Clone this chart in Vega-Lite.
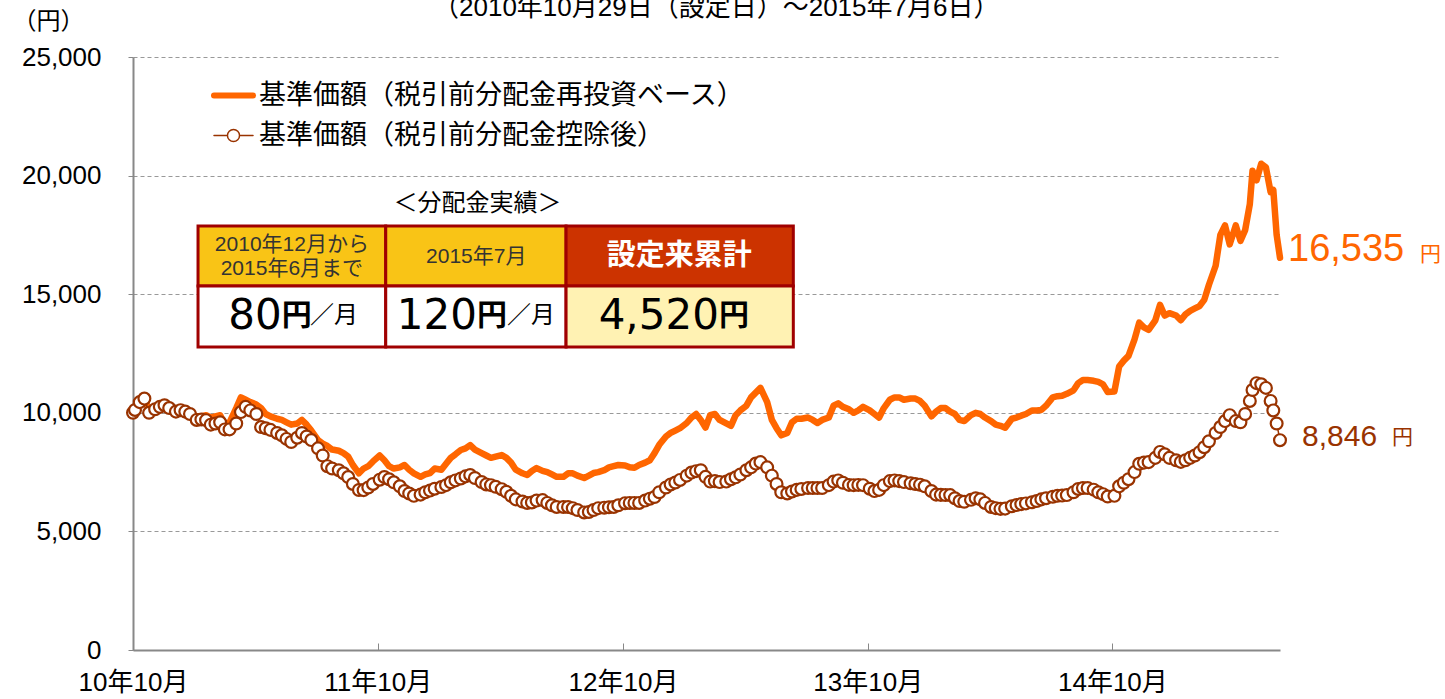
{
  "$schema": "https://vega.github.io/schema/vega-lite/v6.json",
  "width": 1147,
  "height": 593,
  "autosize": {"type": "none"},
  "padding": {"left": 133, "top": 57, "right": 165, "bottom": 49},
  "background": "white",
  "config": {"view": {"stroke": null}, "font": "Liberation Sans, Noto Sans CJK JP", "axisY": {"format": ",d"}},
  "datasets": {
    "nav": [
      {"date":"2010-10-29","reinvest":10000,"after":10000},
      {"date":"2010-11-01","reinvest":10100,"after":10120},
      {"date":"2010-11-08","reinvest":10450,"after":10450},
      {"date":"2010-11-15","reinvest":10650,"after":10600},
      {"date":"2010-11-22","reinvest":10050,"after":10000},
      {"date":"2010-12-01","reinvest":10150,"after":10150},
      {"date":"2010-12-08","reinvest":10300,"after":10250},
      {"date":"2010-12-15","reinvest":10330,"after":10320},
      {"date":"2010-12-22","reinvest":10250,"after":10200},
      {"date":"2011-01-01","reinvest":10100,"after":10050},
      {"date":"2011-01-08","reinvest":10150,"after":10110},
      {"date":"2011-01-15","reinvest":10100,"after":10050},
      {"date":"2011-01-22","reinvest":10000,"after":9950},
      {"date":"2011-02-01","reinvest":9850,"after":9700},
      {"date":"2011-02-08","reinvest":9850,"after":9720},
      {"date":"2011-02-15","reinvest":9900,"after":9690},
      {"date":"2011-02-22","reinvest":9800,"after":9500},
      {"date":"2011-03-01","reinvest":9850,"after":9550},
      {"date":"2011-03-08","reinvest":9900,"after":9600},
      {"date":"2011-03-15","reinvest":9500,"after":9300},
      {"date":"2011-03-22","reinvest":9600,"after":9300},
      {"date":"2011-04-01","reinvest":10200,"after":9550},
      {"date":"2011-04-08","reinvest":10650,"after":10030},
      {"date":"2011-04-15","reinvest":10550,"after":10250},
      {"date":"2011-04-22","reinvest":10450,"after":10100},
      {"date":"2011-05-01","reinvest":10350,"after":9950},
      {"date":"2011-05-08","reinvest":10200,"after":9400},
      {"date":"2011-05-15","reinvest":9950,"after":9350},
      {"date":"2011-05-22","reinvest":9850,"after":9280},
      {"date":"2011-06-01","reinvest":9750,"after":9150},
      {"date":"2011-06-08","reinvest":9700,"after":9050},
      {"date":"2011-06-15","reinvest":9600,"after":8900},
      {"date":"2011-06-22","reinvest":9500,"after":8770},
      {"date":"2011-07-01","reinvest":9550,"after":8950},
      {"date":"2011-07-08","reinvest":9700,"after":9150},
      {"date":"2011-07-15","reinvest":9500,"after":9000},
      {"date":"2011-07-22","reinvest":9250,"after":8850},
      {"date":"2011-08-01","reinvest":8850,"after":8500},
      {"date":"2011-08-08","reinvest":8700,"after":8200},
      {"date":"2011-08-15","reinvest":8600,"after":7750},
      {"date":"2011-08-22","reinvest":8450,"after":7650},
      {"date":"2011-09-01","reinvest":8400,"after":7580},
      {"date":"2011-09-08","reinvest":8300,"after":7450},
      {"date":"2011-09-15","reinvest":8150,"after":7290},
      {"date":"2011-09-22","reinvest":7800,"after":7000},
      {"date":"2011-10-01","reinvest":7450,"after":6745},
      {"date":"2011-10-08","reinvest":7650,"after":6740},
      {"date":"2011-10-15","reinvest":7750,"after":6850},
      {"date":"2011-10-22","reinvest":7950,"after":7000},
      {"date":"2011-11-01","reinvest":8200,"after":7180},
      {"date":"2011-11-08","reinvest":8000,"after":7290},
      {"date":"2011-11-15","reinvest":7750,"after":7200},
      {"date":"2011-11-22","reinvest":7650,"after":7070},
      {"date":"2011-12-01","reinvest":7700,"after":6900},
      {"date":"2011-12-08","reinvest":7800,"after":6700},
      {"date":"2011-12-15","reinvest":7600,"after":6600},
      {"date":"2011-12-22","reinvest":7450,"after":6500},
      {"date":"2012-01-01","reinvest":7300,"after":6550},
      {"date":"2012-01-08","reinvest":7400,"after":6650},
      {"date":"2012-01-15","reinvest":7460,"after":6720},
      {"date":"2012-01-22","reinvest":7650,"after":6800},
      {"date":"2012-02-01","reinvest":7600,"after":6870},
      {"date":"2012-02-08","reinvest":7850,"after":6950},
      {"date":"2012-02-15","reinvest":8100,"after":7070},
      {"date":"2012-02-22","reinvest":8250,"after":7150},
      {"date":"2012-03-01","reinvest":8430,"after":7230},
      {"date":"2012-03-08","reinvest":8500,"after":7320},
      {"date":"2012-03-15","reinvest":8640,"after":7380},
      {"date":"2012-03-22","reinvest":8450,"after":7250},
      {"date":"2012-04-01","reinvest":8300,"after":7080},
      {"date":"2012-04-08","reinvest":8200,"after":6980},
      {"date":"2012-04-15","reinvest":8100,"after":6950},
      {"date":"2012-04-22","reinvest":8150,"after":6880},
      {"date":"2012-05-01","reinvest":8220,"after":6780},
      {"date":"2012-05-08","reinvest":8100,"after":6670},
      {"date":"2012-05-15","reinvest":7900,"after":6500},
      {"date":"2012-05-22","reinvest":7600,"after":6350},
      {"date":"2012-06-01","reinvest":7450,"after":6260},
      {"date":"2012-06-08","reinvest":7380,"after":6200},
      {"date":"2012-06-15","reinvest":7550,"after":6220},
      {"date":"2012-06-22","reinvest":7670,"after":6300},
      {"date":"2012-07-01","reinvest":7550,"after":6320},
      {"date":"2012-07-08","reinvest":7500,"after":6200},
      {"date":"2012-07-15","reinvest":7400,"after":6100},
      {"date":"2012-07-22","reinvest":7300,"after":6030},
      {"date":"2012-08-01","reinvest":7300,"after":6030},
      {"date":"2012-08-08","reinvest":7450,"after":6030},
      {"date":"2012-08-15","reinvest":7450,"after":5980},
      {"date":"2012-08-22","reinvest":7350,"after":5900},
      {"date":"2012-09-01","reinvest":7250,"after":5800},
      {"date":"2012-09-08","reinvest":7350,"after":5820},
      {"date":"2012-09-15","reinvest":7460,"after":5900},
      {"date":"2012-09-22","reinvest":7500,"after":5980},
      {"date":"2012-10-01","reinvest":7580,"after":6000},
      {"date":"2012-10-08","reinvest":7700,"after":6020},
      {"date":"2012-10-15","reinvest":7750,"after":6030},
      {"date":"2012-10-22","reinvest":7800,"after":6100},
      {"date":"2012-11-01","reinvest":7780,"after":6190},
      {"date":"2012-11-08","reinvest":7700,"after":6200},
      {"date":"2012-11-15","reinvest":7680,"after":6200},
      {"date":"2012-11-22","reinvest":7800,"after":6200},
      {"date":"2012-12-01","reinvest":7900,"after":6300},
      {"date":"2012-12-08","reinvest":8000,"after":6380},
      {"date":"2012-12-15","reinvest":8300,"after":6450},
      {"date":"2012-12-22","reinvest":8650,"after":6650},
      {"date":"2013-01-01","reinvest":9000,"after":6850},
      {"date":"2013-01-08","reinvest":9150,"after":6980},
      {"date":"2013-01-15","reinvest":9250,"after":7060},
      {"date":"2013-01-22","reinvest":9350,"after":7170},
      {"date":"2013-02-01","reinvest":9570,"after":7350},
      {"date":"2013-02-08","reinvest":9800,"after":7480},
      {"date":"2013-02-15","reinvest":9950,"after":7540},
      {"date":"2013-02-22","reinvest":9700,"after":7580},
      {"date":"2013-03-01","reinvest":9380,"after":7300},
      {"date":"2013-03-08","reinvest":9900,"after":7100},
      {"date":"2013-03-15","reinvest":9950,"after":7120},
      {"date":"2013-03-22","reinvest":9700,"after":7080},
      {"date":"2013-04-01","reinvest":9550,"after":7100},
      {"date":"2013-04-08","reinvest":9450,"after":7200},
      {"date":"2013-04-15","reinvest":9900,"after":7280},
      {"date":"2013-04-22","reinvest":10100,"after":7400},
      {"date":"2013-05-01","reinvest":10300,"after":7580},
      {"date":"2013-05-08","reinvest":10650,"after":7700},
      {"date":"2013-05-15","reinvest":10850,"after":7860},
      {"date":"2013-05-22","reinvest":11050,"after":7920},
      {"date":"2013-06-01","reinvest":10450,"after":7700},
      {"date":"2013-06-08","reinvest":9700,"after":7350},
      {"date":"2013-06-15","reinvest":9350,"after":7000},
      {"date":"2013-06-22","reinvest":9050,"after":6650},
      {"date":"2013-07-01","reinvest":9150,"after":6600},
      {"date":"2013-07-08","reinvest":9600,"after":6680},
      {"date":"2013-07-15","reinvest":9750,"after":6750},
      {"date":"2013-07-22","reinvest":9750,"after":6790},
      {"date":"2013-08-01","reinvest":9800,"after":6830},
      {"date":"2013-08-08","reinvest":9700,"after":6830},
      {"date":"2013-08-15","reinvest":9570,"after":6830},
      {"date":"2013-08-22","reinvest":9700,"after":6830},
      {"date":"2013-09-01","reinvest":9800,"after":6950},
      {"date":"2013-09-08","reinvest":10300,"after":7100},
      {"date":"2013-09-15","reinvest":10400,"after":7150},
      {"date":"2013-09-22","reinvest":10250,"after":7050},
      {"date":"2013-10-01","reinvest":10150,"after":6960},
      {"date":"2013-10-08","reinvest":10000,"after":6950},
      {"date":"2013-10-15","reinvest":10100,"after":6960},
      {"date":"2013-10-22","reinvest":10250,"after":6950},
      {"date":"2013-11-01","reinvest":10100,"after":6800},
      {"date":"2013-11-08","reinvest":9950,"after":6700},
      {"date":"2013-11-15","reinvest":9800,"after":6750},
      {"date":"2013-11-22","reinvest":10200,"after":6950},
      {"date":"2013-12-01","reinvest":10550,"after":7120},
      {"date":"2013-12-08","reinvest":10650,"after":7150},
      {"date":"2013-12-15","reinvest":10650,"after":7120},
      {"date":"2013-12-22","reinvest":10550,"after":7080},
      {"date":"2014-01-01","reinvest":10600,"after":7030},
      {"date":"2014-01-08","reinvest":10600,"after":7000},
      {"date":"2014-01-15","reinvest":10500,"after":6970},
      {"date":"2014-01-22","reinvest":10300,"after":6900},
      {"date":"2014-02-01","reinvest":9850,"after":6700},
      {"date":"2014-02-08","reinvest":10050,"after":6550},
      {"date":"2014-02-15","reinvest":10200,"after":6540},
      {"date":"2014-02-22","reinvest":10200,"after":6535},
      {"date":"2014-03-01","reinvest":10050,"after":6530},
      {"date":"2014-03-08","reinvest":9950,"after":6400},
      {"date":"2014-03-15","reinvest":9700,"after":6280},
      {"date":"2014-03-22","reinvest":9650,"after":6250},
      {"date":"2014-04-01","reinvest":9900,"after":6330},
      {"date":"2014-04-08","reinvest":10000,"after":6400},
      {"date":"2014-04-15","reinvest":9950,"after":6350},
      {"date":"2014-04-22","reinvest":9800,"after":6200},
      {"date":"2014-05-01","reinvest":9650,"after":6030},
      {"date":"2014-05-08","reinvest":9500,"after":5980},
      {"date":"2014-05-15","reinvest":9450,"after":5950},
      {"date":"2014-05-22","reinvest":9370,"after":5960},
      {"date":"2014-06-01","reinvest":9750,"after":6060},
      {"date":"2014-06-08","reinvest":9800,"after":6110},
      {"date":"2014-06-15","reinvest":9880,"after":6150},
      {"date":"2014-06-22","reinvest":9950,"after":6180},
      {"date":"2014-07-01","reinvest":10100,"after":6230},
      {"date":"2014-07-08","reinvest":10100,"after":6280},
      {"date":"2014-07-15","reinvest":10120,"after":6350},
      {"date":"2014-07-22","reinvest":10300,"after":6400},
      {"date":"2014-08-01","reinvest":10650,"after":6460},
      {"date":"2014-08-08","reinvest":10700,"after":6500},
      {"date":"2014-08-15","reinvest":10720,"after":6510},
      {"date":"2014-08-22","reinvest":10800,"after":6530},
      {"date":"2014-09-01","reinvest":10950,"after":6650},
      {"date":"2014-09-08","reinvest":11250,"after":6790},
      {"date":"2014-09-15","reinvest":11380,"after":6830},
      {"date":"2014-09-22","reinvest":11380,"after":6830},
      {"date":"2014-10-01","reinvest":11350,"after":6760},
      {"date":"2014-10-08","reinvest":11300,"after":6650},
      {"date":"2014-10-15","reinvest":11200,"after":6570},
      {"date":"2014-10-22","reinvest":10880,"after":6470},
      {"date":"2014-11-01","reinvest":10900,"after":6500},
      {"date":"2014-11-08","reinvest":11950,"after":6900},
      {"date":"2014-11-15","reinvest":12200,"after":7050},
      {"date":"2014-11-22","reinvest":12400,"after":7200},
      {"date":"2014-12-01","reinvest":13100,"after":7500},
      {"date":"2014-12-08","reinvest":13800,"after":7850},
      {"date":"2014-12-15","reinvest":13600,"after":7900},
      {"date":"2014-12-22","reinvest":13500,"after":7920},
      {"date":"2015-01-01","reinvest":13900,"after":8100},
      {"date":"2015-01-08","reinvest":14550,"after":8350},
      {"date":"2015-01-15","reinvest":14100,"after":8250},
      {"date":"2015-01-22","reinvest":14200,"after":8100},
      {"date":"2015-02-01","reinvest":14100,"after":8000},
      {"date":"2015-02-08","reinvest":13900,"after":7930},
      {"date":"2015-02-15","reinvest":14150,"after":8000},
      {"date":"2015-02-22","reinvest":14300,"after":8100},
      {"date":"2015-03-01","reinvest":14400,"after":8200},
      {"date":"2015-03-08","reinvest":14500,"after":8340},
      {"date":"2015-03-15","reinvest":14760,"after":8550},
      {"date":"2015-03-22","reinvest":15400,"after":8800},
      {"date":"2015-04-01","reinvest":16200,"after":9150},
      {"date":"2015-04-08","reinvest":17500,"after":9400},
      {"date":"2015-04-15","reinvest":17900,"after":9650},
      {"date":"2015-04-22","reinvest":17100,"after":9900},
      {"date":"2015-05-01","reinvest":17900,"after":9650},
      {"date":"2015-05-08","reinvest":17250,"after":9600},
      {"date":"2015-05-15","reinvest":17700,"after":9950},
      {"date":"2015-05-22","reinvest":18800,"after":10500},
      {"date":"2015-05-26","reinvest":20200,"after":10960},
      {"date":"2015-06-01","reinvest":19800,"after":11250},
      {"date":"2015-06-08","reinvest":20500,"after":11200},
      {"date":"2015-06-15","reinvest":20350,"after":11050},
      {"date":"2015-06-22","reinvest":19300,"after":10500},
      {"date":"2015-06-26","reinvest":19400,"after":10100},
      {"date":"2015-07-01","reinvest":17500,"after":9550},
      {"date":"2015-07-06","reinvest":16535,"after":8846}
    ],
    "cells": [
      {"cell":"h1","x1":"2011-02-03","x2":"2011-11-10","y1":15346,"y2":17875},
      {"cell":"h2","x1":"2011-11-10","x2":"2012-08-05","y1":15346,"y2":17875},
      {"cell":"h3","x1":"2012-08-05","x2":"2013-07-10","y1":15346,"y2":17875},
      {"cell":"b1","x1":"2011-02-03","x2":"2011-11-10","y1":12774,"y2":15346},
      {"cell":"b2","x1":"2011-11-10","x2":"2012-08-05","y1":12774,"y2":15346},
      {"cell":"b3","x1":"2012-08-05","x2":"2013-07-10","y1":12774,"y2":15346}
    ],
    "hdr": [
      {"x":"2011-06-23","y":17074,"t":"2010年12月から"},
      {"x":"2011-06-23","y":16063,"t":"2015年6月まで"},
      {"x":"2012-03-24","y":16568,"t":"2015年7月"}
    ],
    "hdrbig": [
      {"x":"2013-01-21","y":16611,"t":"設定来累計"}
    ],
    "body": [
      {"x":"2011-06-08","xs":"2011-07-20","y":14081,"num":"80","per":"／月"},
      {"x":"2012-03-25","xs":"2012-05-09","y":14081,"num":"120","per":"／月"},
      {"x":"2013-03-21","xs":null,"y":14081,"num":"4,520","per":null}
    ],
    "notes": [
      {"x":"2012-03-26","y":18803,"t":"＜分配金実績＞"}
    ],
    "heading": [
      {"x":"2013-03-17","y":27066,"t":"（2010年10月29日（設定日）～2015年7月6日）"}
    ]
  },
  "layer": [
    {
      "data": {"name": "nav"},
      "transform": [{"fold": ["reinvest", "after"], "as": ["series", "value"]}],
      "encoding": {
        "x": {
          "field": "date", "type": "temporal",
          "scale": {"type": "utc", "domain": [{"year":2010,"month":10,"date":29,"utc":true},{"year":2015,"month":7,"date":6,"utc":true}]},
          "axis": {
            "values": [
              {"year":2010,"month":10,"date":29,"utc":true},
              {"year":2011,"month":10,"date":29,"utc":true},
              {"year":2012,"month":10,"date":29,"utc":true},
              {"year":2013,"month":10,"date":29,"utc":true},
              {"year":2014,"month":10,"date":29,"utc":true}
            ],
            "format": "%y年%-m月", "title": null, "grid": false,
            "domainColor": "#888888", "domainWidth": 2,
            "tickColor": "#888888", "tickWidth": 1, "tickSize": -7,
            "labelFontSize": 26, "labelFont": "Liberation Sans, Noto Sans CJK JP",
            "labelColor": "#000000", "labelPadding": 26, "labelFlush": false, "labelOverlap": false
          }
        },
        "y": {
          "field": "value", "type": "quantitative",
          "scale": {"domain": [0, 25000], "nice": false},
          "axis": {
            "values": [0, 5000, 10000, 15000, 20000, 25000], "format": ",d",
            "labelExpr": "format(datum.value, ',d')",
            "title": "（円）", "titleAngle": 0, "titleX": -85, "titleY": -36,
            "titleAlign": "center", "titleBaseline": "middle",
            "titleFontSize": 24, "titleFontWeight": "normal", "titleFont": "Noto Sans CJK JP", "titleColor": "#000000",
            "grid": true, "gridColor": "#999999", "gridDash": [4, 3], "gridWidth": 1,
            "domainColor": "#888888", "domainWidth": 2,
            "tickColor": "#888888", "tickSize": 5,
            "labelFontSize": 26, "labelFont": "Liberation Sans", "labelColor": "#000000", "labelPadding": 27
          }
        }
      },
      "layer": [
        {
          "transform": [{"filter": "datum.series === 'reinvest'"}],
          "mark": {"type": "line", "strokeWidth": 6.5, "strokeJoin": "round", "strokeCap": "round"},
          "encoding": {
            "color": {
              "field": "series", "type": "nominal",
              "scale": {"domain": ["reinvest", "after"], "range": ["#FF6600", "#993300"]},
              "legend": {
                "orient": "none", "legendX": 87, "legendY": 25, "title": null, "padding": 0,
                "symbolSize": 1521, "symbolType": "stroke", "symbolStrokeWidth": 6,
                "labelFontSize": 27, "labelFont": "Noto Sans CJK JP", "labelColor": "#000000",
                "labelLimit": 900, "labelOffset": 12, "rowPadding": 12,
                "labelExpr": "datum.value === 'reinvest' ? '基準価額（税引前分配金再投資ベース）' : '基準価額（税引前分配金控除後）'",
                "encode": {
                  "symbols": {
                    "update": {
                      "shape": {"signal": "datum.value === 'reinvest' ? 'stroke' : 'M-1,0L-0.31,0M0.31,0L1,0M-0.31,0A0.31,0.31,0,1,1,0.31,0A0.31,0.31,0,1,1,-0.31,0Z'"},
                      "strokeWidth": {"signal": "datum.value === 'reinvest' ? 6 : 1.5"},
                      "fill": {"signal": "datum.value === 'reinvest' ? 'transparent' : 'white'"},
                      "strokeCap": {"value": "round"}
                    }
                  }
                }
              }
            }
          }
        },
        {
          "transform": [{"filter": "datum.series === 'after'"}],
          "mark": {"type": "line", "strokeWidth": 1.5},
          "encoding": {"color": {"field": "series", "type": "nominal"}}
        },
        {
          "transform": [{"filter": "datum.series === 'after'"}],
          "mark": {"type": "point", "shape": "circle", "size": 140, "filled": false, "fill": "white", "strokeWidth": 2.2, "opacity": 1},
          "encoding": {"color": {"field": "series", "type": "nominal"}}
        },
        {
          "transform": [{"filter": "datum.series === 'reinvest' && time(datum.date) === utc(2015,6,6)"}],
          "mark": {"type": "text", "align": "left", "baseline": "middle", "dx": 8, "dy": -8, "fontSize": 38, "font": "Liberation Sans", "color": "#FF6600"},
          "encoding": {"text": {"field": "value", "type": "quantitative", "format": ","}}
        },
        {
          "transform": [{"filter": "datum.series === 'reinvest' && time(datum.date) === utc(2015,6,6)"}],
          "mark": {"type": "text", "align": "left", "baseline": "middle", "dx": 140, "dy": -3, "fontSize": 21, "font": "Noto Sans CJK JP", "color": "#FF6600"},
          "encoding": {"text": {"value": "円"}}
        },
        {
          "transform": [{"filter": "datum.series === 'after' && time(datum.date) === utc(2015,6,6)"}],
          "mark": {"type": "text", "align": "left", "baseline": "middle", "dx": 22, "dy": -3, "fontSize": 30, "font": "Liberation Sans", "color": "#993300"},
          "encoding": {"text": {"field": "value", "type": "quantitative", "format": ","}}
        },
        {
          "transform": [{"filter": "datum.series === 'after' && time(datum.date) === utc(2015,6,6)"}],
          "mark": {"type": "text", "align": "left", "baseline": "middle", "dx": 112, "dy": -2, "fontSize": 21, "font": "Noto Sans CJK JP", "color": "#993300"},
          "encoding": {"text": {"value": "円"}}
        }
      ]
    },
    {
      "data": {"name": "cells"},
      "mark": {"type": "rect", "stroke": "#A00000", "strokeWidth": 3},
      "encoding": {
        "x": {"field": "x1", "type": "temporal"},
        "x2": {"field": "x2"},
        "y": {"field": "y1", "type": "quantitative"},
        "y2": {"field": "y2"},
        "fill": {
          "field": "cell", "type": "nominal", "legend": null,
          "scale": {"domain": ["h1","h2","h3","b1","b2","b3"], "range": ["#F9C416","#F9C416","#CC3300","#FFFFFF","#FFFFFF","#FFF2B3"]}
        }
      }
    },
    {
      "data": {"name": "hdr"},
      "mark": {"type": "text", "align": "center", "baseline": "middle", "fontSize": 21, "font": "Liberation Sans, Noto Sans CJK JP", "color": "#333333"},
      "encoding": {
        "x": {"field": "x", "type": "temporal"},
        "y": {"field": "y", "type": "quantitative"},
        "text": {"field": "t"}
      }
    },
    {
      "data": {"name": "hdrbig"},
      "mark": {"type": "text", "align": "center", "baseline": "middle", "fontSize": 29, "fontWeight": "bold", "font": "Noto Sans CJK JP", "color": "#FFFFFF"},
      "encoding": {
        "x": {"field": "x", "type": "temporal"},
        "y": {"field": "y", "type": "quantitative"},
        "text": {"field": "t"}
      }
    },
    {
      "data": {"name": "body"},
      "mark": {"type": "text", "align": "right", "baseline": "middle", "fontSize": 42, "font": "DejaVu Sans", "color": "#000000"},
      "encoding": {
        "x": {"field": "x", "type": "temporal"},
        "y": {"field": "y", "type": "quantitative"},
        "text": {"field": "num"}
      }
    },
    {
      "data": {"name": "body"},
      "mark": {"type": "text", "align": "left", "baseline": "middle", "fontSize": 30, "fontWeight": "bold", "font": "Noto Sans CJK JP", "color": "#000000"},
      "encoding": {
        "x": {"field": "x", "type": "temporal"},
        "y": {"field": "y", "type": "quantitative"},
        "text": {"value": "円"}
      }
    },
    {
      "data": {"name": "body"},
      "transform": [{"filter": "datum.per != null"}],
      "mark": {"type": "text", "align": "left", "baseline": "middle", "fontSize": 24, "font": "Noto Sans CJK JP", "color": "#000000"},
      "encoding": {
        "x": {"field": "xs", "type": "temporal"},
        "y": {"field": "y", "type": "quantitative"},
        "text": {"field": "per"}
      }
    },
    {
      "data": {"name": "notes"},
      "mark": {"type": "text", "align": "center", "baseline": "middle", "fontSize": 24, "font": "Noto Sans CJK JP", "color": "#000000"},
      "encoding": {
        "x": {"field": "x", "type": "temporal"},
        "y": {"field": "y", "type": "quantitative"},
        "text": {"field": "t"}
      }
    },
    {
      "data": {"name": "heading"},
      "mark": {"type": "text", "align": "center", "baseline": "middle", "fontSize": 26, "font": "Liberation Sans, Noto Sans CJK JP", "color": "#000000"},
      "encoding": {
        "x": {"field": "x", "type": "temporal"},
        "y": {"field": "y", "type": "quantitative"},
        "text": {"field": "t"}
      }
    }
  ]
}
